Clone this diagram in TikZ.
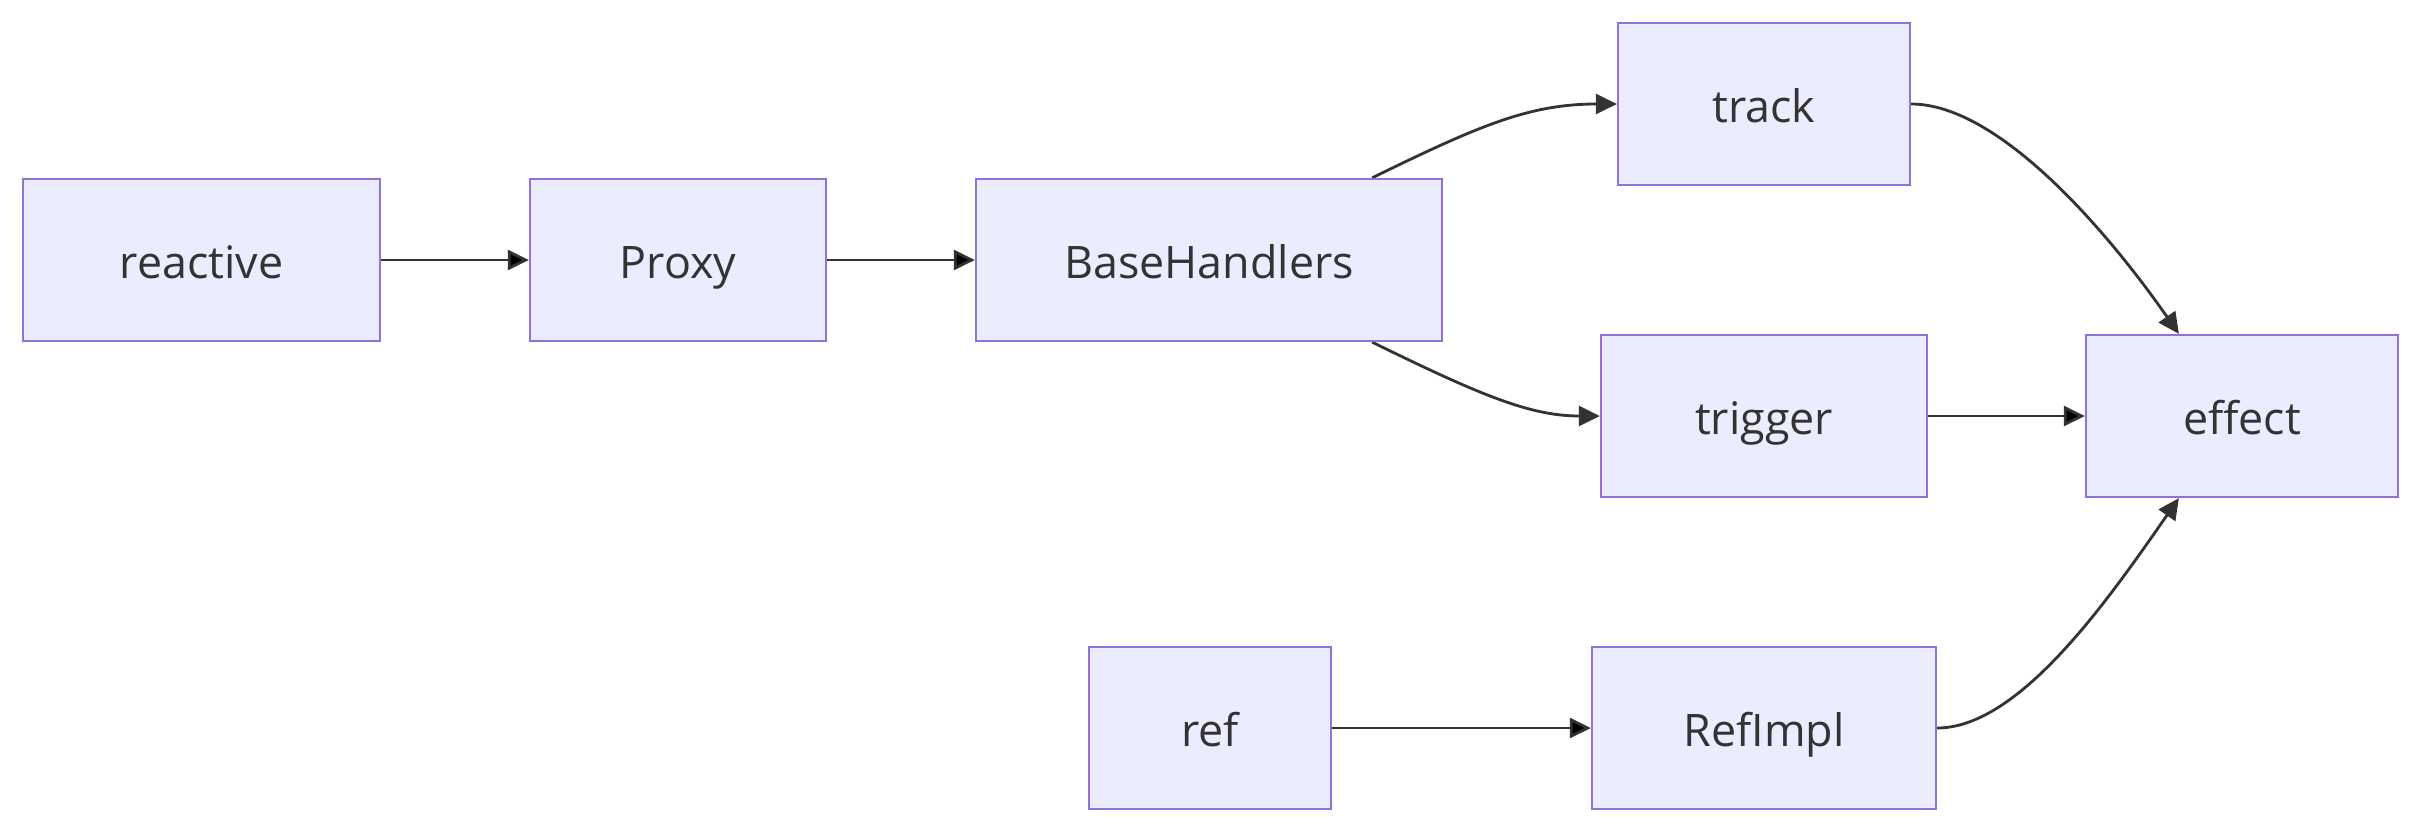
\documentclass[tikz,border=0pt]{standalone}
\usepackage{fontspec}
\setmainfont{Open Sans}
\usepackage{tikz}
\usetikzlibrary{arrows.meta}
\pgfdeclarelayer{bg}
\pgfsetlayers{bg,main}
\definecolor{boxfill}{HTML}{ECECFF}
\definecolor{boxline}{HTML}{9370DB}
\definecolor{linkcol}{HTML}{333333}
\tikzset{
  blk/.style={draw=boxline, fill=boxfill, line width=1.3pt, minimum height=3.24cm,
    inner sep=0pt, text height=0.9cm, text depth=0.18cm, text=linkcol,
    font=\fontsize{25.5}{30}\selectfont},
  flow/.style={draw=linkcol, line width=1.6pt, -{Triangle[length=0.42cm,width=0.4cm]}}
}

\begin{document}
\begin{tikzpicture}
  \useasboundingbox (0,0) rectangle (48.42,-16.68);

  \node (reactive) [blk, minimum width=7.14cm] at (4.03cm, -5.2cm) {reactive};
  \node (proxy) [blk, minimum width=5.92cm] at (13.56cm, -5.2cm) {Proxy};
  \node (bh) [blk, minimum width=9.32cm] at (24.18cm, -5.2cm) {BaseHandlers};

    \node (track) [blk, minimum width=5.84cm] at (35.28cm, -2.08cm) {track};
    \node (trigger) [blk, minimum width=6.52cm] at (35.28cm, -8.32cm) {trigger};

  \node (effect) [blk, minimum width=6.24cm] at (44.84cm, -8.32cm) {effect};

    \node (ref) [blk, minimum width=4.84cm] at (24.2cm, -14.56cm) {ref};
    \node (refimpl) [blk, minimum width=6.88cm] at (35.28cm, -14.56cm) {RefImpl};

  \begin{pgfonlayer}{bg}
	  \draw[flow] (reactive) edge (proxy);
	  \draw[flow] (proxy) edge (bh);

	  \draw[flow] ([xshift=-1.42cm]bh.north east) .. controls (29.6,-2.5) and (30.6,-2.08) .. (track.west);
	  \draw[flow] ([xshift=-1.42cm]bh.south east) .. controls (29.6,-7.9) and (30.6,-8.32) .. (trigger.west);

	  \draw[flow] (track.east) .. controls (40.0,-2.08) and (42.2,-4.7) .. ([xshift=1.88cm]effect.north west);
	  \draw[flow] (trigger) edge (effect);
	  \draw[flow] (refimpl.east) .. controls (40.4,-14.56) and (42.2,-11.94) .. ([xshift=1.88cm]effect.south west);

	  \draw[flow] (ref) edge (refimpl);
  \end{pgfonlayer}
\end{tikzpicture}
\end{document}
